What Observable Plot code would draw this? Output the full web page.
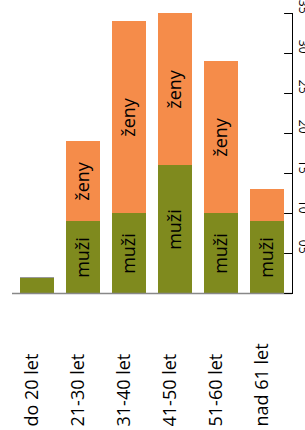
<!DOCTYPE html>
<html>
<head>
<meta charset="utf-8">
<script src="https://cdn.jsdelivr.net/npm/d3@7"></script>
<script src="https://cdn.jsdelivr.net/npm/@observablehq/plot@0.6"></script>
<style>
  html, body { margin: 0; padding: 0; background: #fff; overflow: hidden; }
  #chart svg { display: block; }
</style>
</head>
<body>
<div id="chart"></div>
<script>
const categories = ["do 20 let", "21-30 let", "31-40 let", "41-50 let", "51-60 let", "nad 61 let"];
const series = ["muži", "ženy"];
const muzi = [2, 9, 10, 16, 10, 9];
const zeny = [0, 10, 24, 19, 19, 4];
const yTicks = [0, 5, 10, 15, 20, 25, 30, 35];
const colors = ["#7f8a1e", "#f58c4a"];

const data = [];
categories.forEach((c, i) => {
  data.push({age: c, sex: series[0], value: muzi[i]});
  data.push({age: c, sex: series[1], value: zeny[i]});
});

const tickShape = {
  draw(context, l) { context.moveTo(0, 0); context.lineTo(0, -l); }
};

const chart = Plot.plot({
  width: 305,
  height: 430,
  marginTop: 13,
  marginBottom: 137,
  marginLeft: 12,
  marginRight: 13,
  style: {fontFamily: "'Open Sans'", background: "#fff", color: "#000", overflow: "hidden"},
  x: {domain: categories, paddingInner: 0.27, paddingOuter: 0.14, axis: null},
  y: {domain: [0, 35], axis: null},
  color: {domain: series, range: colors},
  marks: [
    Plot.barY(data, Plot.stackY({x: "age", y: "value", z: "sex", fill: "sex", order: series})),
    Plot.tickY(data, Plot.stackY2({x: "age", y: "value", z: "sex", order: series, stroke: "#999", strokeOpacity: d => d.value === 0 ? 1 : 0})),
    Plot.ruleY([0], {stroke: "#888", strokeWidth: 1.5}),
    Plot.text(yTicks, {y: d => d, frameAnchor: "right", dx: 10, rotate: 90, fontSize: 12, fill: "#000",
      text: d => d === 0 ? "" : d3.format("02d")(d)}),
    Plot.text(data, Plot.stackY({x: "age", y: "value", z: "sex", order: series, rotate: -90, fontSize: 18, fill: "#000",
      text: d => d.value >= 9 ? d.sex : ""})),
    Plot.text(categories, {x: d => d, frameAnchor: "bottom", dy: 133, rotate: -90, textAnchor: "start", fontSize: 18, fill: "#000"}),
    Plot.frame({anchor: "right", stroke: "#000", strokeWidth: 1}),
    Plot.vector(yTicks, {y: d => d, frameAnchor: "right", length: 8, rotate: -90, anchor: "start", shape: tickShape, stroke: "#000", strokeWidth: 1})
  ]
});
document.getElementById("chart").appendChild(chart);
</script>
</body>
</html>
